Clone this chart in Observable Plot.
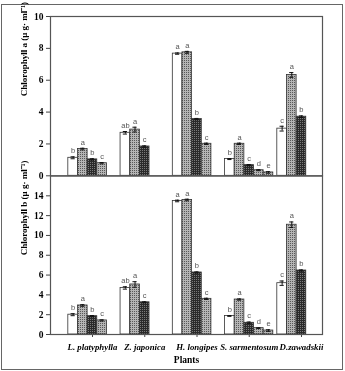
<!DOCTYPE html>
<html><head><meta charset="utf-8">
<script src="https://cdn.jsdelivr.net/npm/d3@7"></script>
<script src="https://cdn.jsdelivr.net/npm/@observablehq/plot@0.6"></script>
<style>
body{margin:0;background:#fff}
#wrap{position:relative;width:345px;height:371px;overflow:hidden;font-family:'Liberation Serif',serif}
#border{position:absolute;left:1px;top:4px;width:342px;height:366px;border:1.5px solid #666;box-sizing:border-box}
.panel{position:absolute;left:0;will-change:transform}
</style></head><body>
<div id="wrap">
<svg width="0" height="0" style="position:absolute">
  <defs>
    <pattern id="hatch" width="2" height="2" patternUnits="userSpaceOnUse">
      <rect width="2" height="2" fill="#b5b5b5"/>
      <rect width="1" height="1" fill="#585858"/>
    </pattern>
    <pattern id="dark" width="2" height="2" patternUnits="userSpaceOnUse">
      <rect width="2" height="2" fill="#2a2a2a"/>
      <rect width="1" height="1" fill="#7a7a7a"/>
    </pattern>
  </defs>
</svg>
<div id="border"></div>
<div id="p1" class="panel" style="top:0"></div>
<div id="p2" class="panel" style="top:175px"></div>
</div>
<script>
const plants = ["L. platyphylla", "Z. japonica", "H. longipes", "S. sarmentosum", "D.zawadskii"];

const chlA = [[1.13, 1.68, 1.03, 0.79], [2.70, 2.90, 1.84], [7.67, 7.75, 3.56, 2.01], [1.05, 2.01, 0.67, 0.35, 0.21], [2.96, 6.33, 3.71]];
const chlAErr = [[0.06, 0.05, 0.04, 0.04], [0.08, 0.15, 0.04], [0.04, 0.06, 0.04, 0.04], [0.03, 0.04, 0.04, 0.03, 0.05], [0.15, 0.15, 0.05]];
const chlALetters = [["b", "a", "b", "c"], ["ab", "a", "c"], ["a", "a", "b", "c"], ["b", "a", "c", "d", "e"], ["c", "a", "b"]];

const chlB = [[2.0, 2.93, 1.85, 1.42], [4.7, 5.05, 3.25], [13.48, 13.58, 6.26, 3.6], [1.87, 3.53, 1.18, 0.64, 0.40], [5.18, 11.08, 6.46]];
const chlBErr = [[0.1, 0.08, 0.06, 0.06], [0.12, 0.28, 0.05], [0.08, 0.08, 0.06, 0.06], [0.04, 0.06, 0.08, 0.04, 0.08], [0.22, 0.28, 0.06]];
const chlBLetters = [["b", "a", "b", "c"], ["ab", "a", "c"], ["a", "a", "b", "c"], ["b", "a", "c", "d", "e"], ["c", "a", "b"]];

const patterns = ["white", "url(#hatch)", "url(#dark)", "url(#hatch)", "url(#hatch)"];
const yTicksA = [0, 2, 4, 6, 8, 10];
const yTicksB = [0, 2, 4, 6, 8, 10, 12, 14];

const SERIF = "'Liberation Serif', 'Times New Roman', serif";
const SANS = "'Liberation Sans', Arial, sans-serif";

const slot = 0.1847;   // bar width in plant-index units
const start = -0.463;  // first slot offset from group centre

function rows(vals, errs, letters) {
  const out = [];
  vals.forEach((g, i) => g.forEach((v, j) => {
    const x1 = i + start + j * slot;
    out.push({i, j, v, e: errs[i][j], lab: letters[i][j], x1, x2: x1 + slot, xc: x1 + slot / 2,
      lo: v - errs[i][j], hi: v + errs[i][j], c1: x1 + slot / 2 - 0.04, c2: x1 + slot / 2 + 0.04});
  }));
  return out;
}

function barMarks(data) {
  const m = [];
  for (let j = 0; j < 5; j++) {
    m.push(Plot.rectY(data.filter(d => d.j === j), {x1: "x1", x2: "x2", y1: 0, y2: "v", fill: patterns[j], stroke: "#333", strokeWidth: 0.8}));
  }
  m.push(Plot.ruleX(data, {x: "xc", y1: "lo", y2: "hi", stroke: "#111", strokeWidth: 1}));
  m.push(Plot.ruleY(data, {y: "hi", x1: "c1", x2: "c2", stroke: "#111", strokeWidth: 1}));
  m.push(Plot.ruleY(data, {y: "lo", x1: "c1", x2: "c2", stroke: "#111", strokeWidth: 1}));
  m.push(Plot.text(data, {x: "xc", y: "hi", text: "lab", dy: -6, fontSize: 7.5, fill: "#555555", fontFamily: SANS, fontWeight: "normal"}));
  return m;
}

const xDomain = [-0.804, 4.402];

const p1 = Plot.plot({
  width: 345, height: 176,
  marginLeft: 50, marginRight: 23, marginTop: 16, marginBottom: 0.7,
  style: {fontFamily: SERIF, fontWeight: "bold", background: "transparent", overflow: "visible"},
  x: {domain: xDomain, axis: null},
  y: {domain: [0, 10], axis: null},
  marks: [
    Plot.axisY(yTicksA, {tickSize: 4, tickPadding: 3, fontSize: 9.5, fontWeight: "bold", fontFamily: SERIF, label: null, stroke: "#444"}),
    ...barMarks(rows(chlA, chlAErr, chlALetters)),
    Plot.frame({stroke: "#555", strokeWidth: 1.2}),
    Plot.text(["Chlorophyll a (μ g· ml⁻¹)"], {frameAnchor: "left", rotate: -90, dx: -26, fontSize: 9, fontWeight: "bold", fontFamily: SERIF})
  ]
});
document.getElementById("p1").appendChild(p1);

const p2 = Plot.plot({
  width: 345, height: 196,
  marginLeft: 50, marginRight: 23, marginTop: 0.5, marginBottom: 37,
  style: {fontFamily: SERIF, fontWeight: "bold", background: "transparent", overflow: "visible"},
  x: {domain: xDomain, axis: null},
  y: {domain: [0, 16], axis: null},
  marks: [
    Plot.axisY(yTicksB, {tickSize: 4, tickPadding: 3, fontSize: 9.5, fontWeight: "bold", fontFamily: SERIF, label: null, stroke: "#444"}),
    Plot.axisX([0, 1, 2, 3, 4], {tickFormat: i => plants[i], tickSize: 3, tickPadding: 6, fontSize: 8.8, fontStyle: "italic", fontWeight: "bold", fontFamily: SERIF, label: null, stroke: "#444"}),
    ...barMarks(rows(chlB, chlBErr, chlBLetters)),
    Plot.frame({stroke: "#555", strokeWidth: 1.2}),
    Plot.text(["Chlorophyll b (μ g· ml⁻¹)"], {frameAnchor: "left", rotate: -90, dx: -26, fontSize: 9, fontWeight: "bold", fontFamily: SERIF}),
    Plot.text(["Plants"], {frameAnchor: "bottom", dy: 28, fontSize: 9.5, fontWeight: "bold", fontFamily: SERIF})
  ]
});
document.getElementById("p2").appendChild(p2);
</script>
</body></html>
